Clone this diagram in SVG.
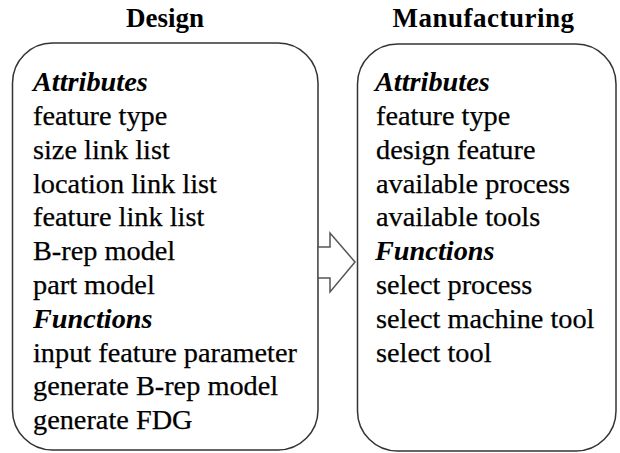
<svg xmlns="http://www.w3.org/2000/svg" width="620" height="453" viewBox="0 0 620 453">
  <style>
    .box { fill: #ffffff; stroke: #333333; stroke-width: 1.5; }
    .title { font-family: "Liberation Serif", "Times New Roman", serif; font-size: 27px; font-weight: bold; fill: #000000; text-anchor: middle; }
    .item { font-family: "Liberation Serif", "Times New Roman", serif; font-size: 28.3px; fill: #000000; stroke: #000000; stroke-width: 0.25px; }
    .head { font-weight: bold; font-style: italic; stroke-width: 0; }
    .arrow { fill: #ffffff; stroke: #555555; stroke-width: 1.5; stroke-linejoin: miter; }
  </style>
  <rect width="620" height="453" fill="#ffffff"/>

  <g id="design">
    <rect class="box" x="12.5" y="43" width="305.5" height="407" rx="40" ry="40"/>
    <text class="title" x="165" y="27">Design</text>
    <text class="item head" x="33" y="91">Attributes</text>
    <text class="item" x="33" y="125">feature type</text>
    <text class="item" x="33" y="159">size link list</text>
    <text class="item" x="33" y="193">location link list</text>
    <text class="item" x="33" y="226">feature link list</text>
    <text class="item" x="33" y="260">B-rep model</text>
    <text class="item" x="33" y="294">part model</text>
    <text class="item head" x="33" y="328">Functions</text>
    <text class="item" x="33" y="362">input feature parameter</text>
    <text class="item" x="33" y="395">generate B-rep model</text>
    <text class="item" x="33" y="429">generate FDG</text>
  </g>

  <g id="manufacturing">
    <rect class="box" x="357.5" y="44" width="258.5" height="407" rx="40" ry="40"/>
    <text class="title" x="483.5" y="27" letter-spacing="0.5">Manufacturing</text>
    <text class="item head" x="375" y="91">Attributes</text>
    <text class="item" x="376" y="125">feature type</text>
    <text class="item" x="376" y="159">design feature</text>
    <text class="item" x="376" y="193">available process</text>
    <text class="item" x="376" y="226">available tools</text>
    <text class="item head" x="375" y="260">Functions</text>
    <text class="item" x="376" y="294">select process</text>
    <text class="item" x="376" y="328">select machine tool</text>
    <text class="item" x="376" y="362">select tool</text>
  </g>

  <g id="connectors">
    <polygon class="arrow" points="318,247 330,247 330,233 355,262 330,292 330,278 318,278"/>
  </g>
</svg>
